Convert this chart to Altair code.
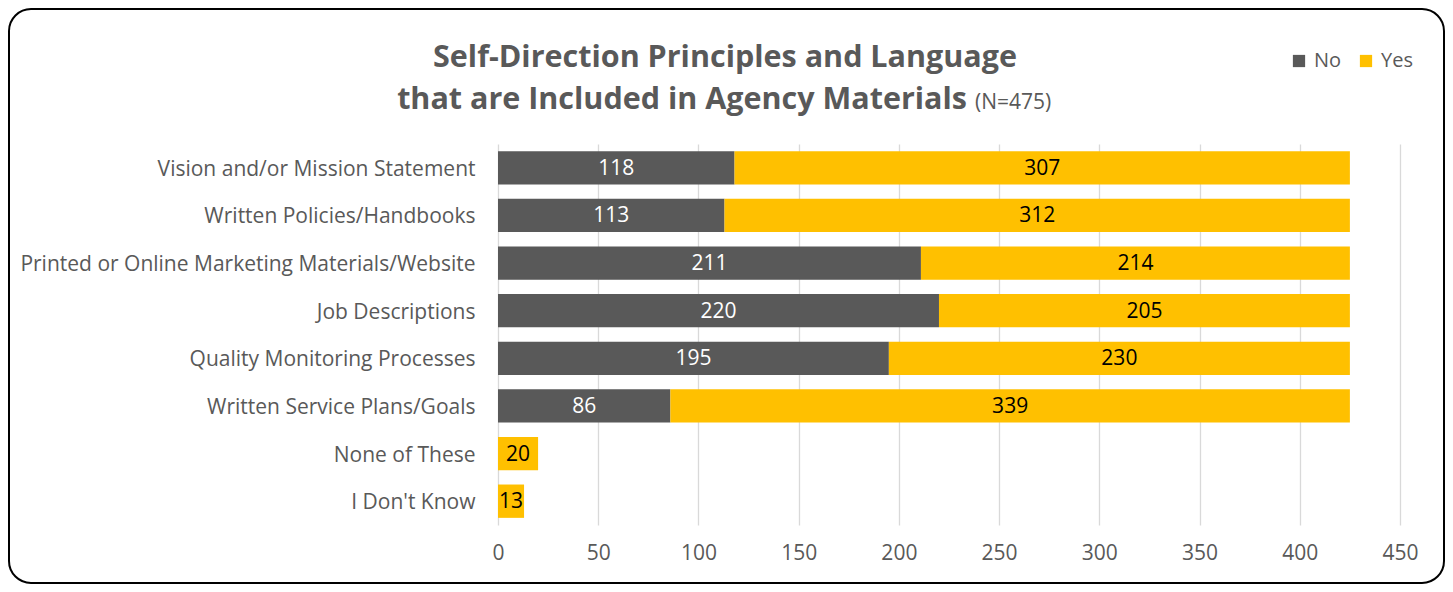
import altair as alt
import pandas as pd

categories = [
    "Vision and/or Mission Statement",
    "Written Policies/Handbooks",
    "Printed or Online Marketing Materials/Website",
    "Job Descriptions",
    "Quality Monitoring Processes",
    "Written Service Plans/Goals",
    "None of These",
    "I Don't Know",
]
no_values = [118, 113, 211, 220, 195, 86, 0, 0]
yes_values = [307, 312, 214, 205, 230, 339, 20, 13]
series_names = ["No", "Yes"]
series_colors = ["#595959", "#FFC000"]
x_ticks = [0, 50, 100, 150, 200, 250, 300, 350, 400, 450]

FONT = "Open Sans"
GREY = "#595959"

rows = []
for cat, n, y in zip(categories, no_values, yes_values):
    rows.append({"category": cat, "series": "No", "value": n, "start": 0, "end": n,
                 "mid": n / 2, "ord": 0})
    rows.append({"category": cat, "series": "Yes", "value": y, "start": n, "end": n + y,
                 "mid": n + y / 2, "ord": 1})
df = pd.DataFrame(rows)

y_enc = alt.Y("category:N", sort=categories,
              scale=alt.Scale(paddingInner=0.3, paddingOuter=0.15),
              axis=alt.Axis(title=None, domain=False, ticks=False, grid=False,
                            labelFont=FONT, labelFontSize=21, labelColor=GREY,
                            labelPadding=23, labelLimit=700, labelOffset=2))

bars = alt.Chart(df).mark_bar().encode(
    y=y_enc,
    x=alt.X("start:Q", scale=alt.Scale(domain=[0, 450], nice=False),
            axis=alt.Axis(title=None, values=x_ticks, domain=False, ticks=False,
                          grid=True, gridColor="#D9D9D9", gridWidth=1.3,
                          labelFont=FONT, labelFontSize=21, labelColor=GREY,
                          labelPadding=17, labelFlush=False)),
    x2="end:Q",
    color=alt.Color("series:N",
                    scale=alt.Scale(domain=series_names, range=series_colors),
                    legend=alt.Legend(title=None, orient="none", legendX=791, legendY=-93,
                                      direction="horizontal", symbolType="square",
                                      symbolSize=150, symbolStrokeWidth=0,
                                      labelFont=FONT, labelFontSize=20, labelColor=GREY,
                                      columnPadding=14, labelOffset=5)),
    order=alt.Order("ord:Q"),
)

labels = alt.Chart(df).transform_filter("datum.value > 0").mark_text(
    font=FONT, fontSize=21, baseline="middle", align="center", dy=1
).encode(
    y=alt.Y("category:N", sort=categories),
    x=alt.X("mid:Q"),
    text=alt.Text("value:Q"),
    color=alt.Color("series:N", scale=alt.Scale(domain=series_names, range=["#FFFFFF", "#000000"]),
                    legend=None),
)

one = pd.DataFrame({"a": [0]})

border = alt.Chart(one).mark_rect(
    fillOpacity=0, stroke="#000000", strokeWidth=2, cornerRadius=22
).encode(x=alt.value(-489), x2=alt.value(946), y=alt.value(-135), y2=alt.value(439))

title1 = alt.Chart(one).mark_text(
    font=FONT, fontSize=30.5, fontWeight="bold", color=GREY, align="center", baseline="alphabetic"
).encode(x=alt.value(227), y=alt.value(-77), text=alt.value("Self-Direction Principles and Language"))

title2 = alt.Chart(one).mark_text(
    font=FONT, fontSize=30.5, fontWeight="bold", color=GREY, align="right", baseline="alphabetic"
).encode(x=alt.value(469), y=alt.value(-35), text=alt.value("that are Included in Agency Materials"))

title3 = alt.Chart(one).mark_text(
    font=FONT, fontSize=21, color=GREY, align="left", baseline="alphabetic"
).encode(x=alt.value(477), y=alt.value(-35), text=alt.value("(N=475)"))

chart = alt.layer(border, bars, labels, title1, title2, title3).resolve_scale(
    color="independent"
).properties(
    width=902, height=381,
    autosize=alt.AutoSizeParams(type="none"),
    padding={"left": 490, "top": 136, "right": 45, "bottom": 59},
).configure_view(stroke=None)

chart.save("out.html", embed_options={"renderer": "svg", "actions": False})
